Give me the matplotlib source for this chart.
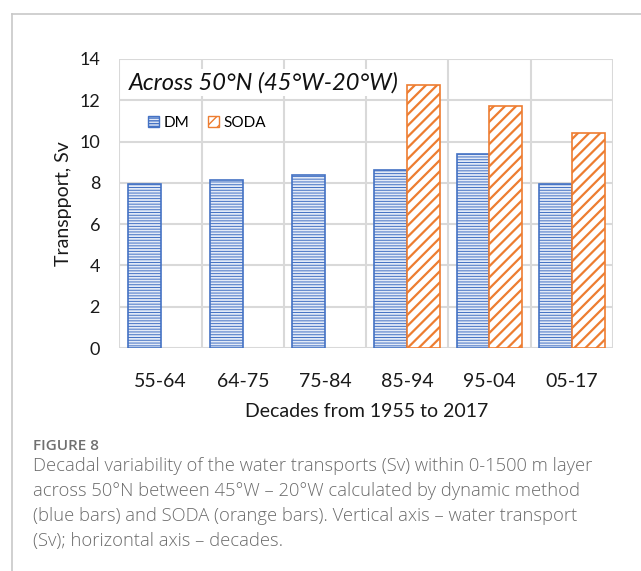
import numpy as np
import matplotlib
matplotlib.use("Agg")
import matplotlib.pyplot as plt
from matplotlib.lines import Line2D
from matplotlib.patches import Patch

# decadal transports across 50N, 45W-20W (Sv)
decades = ["55-64", "64-75", "75-84", "85-94", "95-04", "05-17"]
dm = [7.93, 8.15, 8.38, 8.6, 9.38, 7.96]
soda = [np.nan, np.nan, np.nan, 12.75, 11.72, 10.42]
yticks = [0, 2, 4, 6, 8, 10, 12, 14]

caption = ("Decadal variability of the water transports (Sv) within 0-1500 m layer\n"
           "across 50°N between 45°W \u2013 20°W calculated by dynamic method\n"
           "(blue bars) and SODA (orange bars). Vertical axis \u2013 water transport\n"
           "(Sv); horizontal axis \u2013 decades.")

plt.rcParams["font.family"] = ["Lato", "DejaVu Sans"]

blue = "#4472C4"
orange = "#ED7D31"
grid = "#d9d9d9"

fig = plt.figure(figsize=(6.41, 5.71), dpi=100)
ax = fig.add_axes([0.1864, 0.3905, 0.7696, 0.5062])

x = np.arange(len(decades))
w = 0.4
with plt.rc_context({"hatch.linewidth": 0.7}):
    ax.bar(x - w / 2, dm, w, facecolor="#e3eaf7", edgecolor=blue,
           hatch="------", linewidth=1.2, zorder=2)
with plt.rc_context({"hatch.linewidth": 1.6}):
    ax.bar(x + w / 2, soda, w, facecolor="white", edgecolor=orange,
           hatch="///", linewidth=1.2, zorder=2)

ax.set_xlim(-0.5, len(decades) - 0.5)
ax.set_ylim(0, 14)
ax.set_yticks(yticks)
ax.set_xticks(x)
ax.set_xticklabels(decades, fontsize=14, color="#1a1a1a")
ax.tick_params(axis="y", labelsize=13, labelcolor="#1a1a1a", length=0, pad=14)
ax.tick_params(axis="x", length=0, pad=18)

# grid: horizontal at ticks, vertical between categories
for yv in yticks:
    ax.axhline(yv, color=grid, lw=1.5, zorder=0)
for xv in np.arange(-0.5, len(decades), 1.0):
    ax.axvline(xv, color=grid, lw=1.5, zorder=0)
for s in ax.spines.values():
    s.set_visible(False)

ax.set_ylabel("Transpport, Sv", fontsize=14, color="#1a1a1a", labelpad=5)
ax.set_xlabel("Decades from 1955 to 2017", fontsize=14, color="#1a1a1a", labelpad=9)

ax.text(0.018, 0.955, "Across 50°N (45°W-20°W)", transform=ax.transAxes,
        fontsize=17, style="italic", color="#111111", va="top", ha="left",
        bbox=dict(facecolor="white", edgecolor="none", pad=2), zorder=3)

handles = [Patch(facecolor="#e3eaf7", edgecolor=blue, hatch="------", label="DM"),
           Patch(facecolor="white", edgecolor=orange, hatch="///", label="SODA")]
ax.legend(handles=handles, ncol=2, frameon=False, fontsize=11,
          loc="center left", bbox_to_anchor=(0.029, 0.78),
          handlelength=0.75, handleheight=0.75, handletextpad=0.3,
          columnspacing=1.2)

# page frame
fig.add_artist(Line2D([12 / 641, 1.0], [1 - 14 / 571] * 2, color="#c8c8c8", lw=1.2))
fig.add_artist(Line2D([12 / 641] * 2, [0.0, 1 - 14 / 571], color="#c8c8c8", lw=1.2))

fig.text(33 / 641, 1 - 446 / 571, "FIGURE 8", fontsize=11, color="#707070",
         fontweight="semibold", va="center", ha="left", family=["Open Sans", "DejaVu Sans"])
fig.text(33 / 641, 1 - 457 / 571, caption, fontsize=13.2, color="#6b6b6b",
         fontweight="light", va="top", ha="left", linespacing=1.5,
         family=["Open Sans", "DejaVu Sans"])

fig.savefig("out.png", dpi=100)
